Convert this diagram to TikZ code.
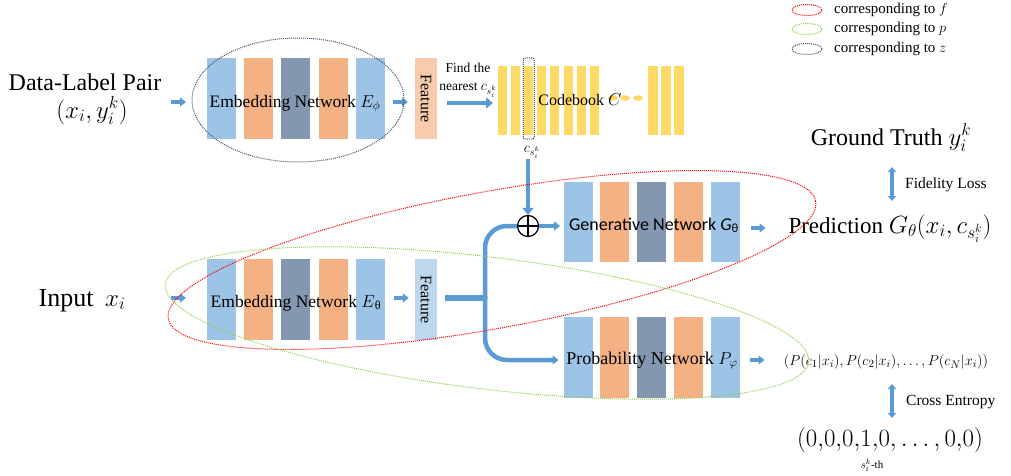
\documentclass[tikz,border=0pt]{standalone}
\usepackage{fontspec}
\setmainfont{Liberation Serif}
\newfontfamily\calib{Carlito}
\usetikzlibrary{arrows.meta,calc}
\definecolor{lblue}{HTML}{9DC3E6}
\definecolor{salm}{HTML}{F4B183}
\definecolor{slate}{HTML}{8497B0}
\definecolor{featO}{HTML}{F8CBAD}
\definecolor{featB}{HTML}{BDD7EE}
\definecolor{cbY}{HTML}{FFD966}
\definecolor{ablue}{HTML}{5B9BD5}
\definecolor{ered}{HTML}{FF0000}
\definecolor{egreen}{HTML}{92D050}
\definecolor{enavy}{HTML}{44546A}
\newcommand\myfs[1]{\fontsize{#1}{#1}\selectfont}
\begin{document}
\begin{tikzpicture}[x=1pt,y=-1pt,
  txt/.style={inner sep=1pt},
  blk/.style={minimum width=29pt,minimum height=81pt,inner sep=0pt,outer sep=0pt},
  cbar/.style={fill=cbY,minimum width=9pt,minimum height=69pt,inner sep=0pt,outer sep=0pt},
  featbox/.style={minimum width=22pt,minimum height=81pt,inner sep=0pt,outer sep=0pt},
  dotline/.style={line width=1pt,dash pattern=on 1pt off 1pt},
  arr/.style={ablue,line width=3.5pt,-{Triangle[length=6pt,width=9pt]}},
  arrbig/.style={ablue,line width=4.5pt,-{Triangle[length=7pt,width=11pt]}},
  arrdbl/.style={ablue,line width=3.5pt,{Triangle[length=5pt,width=8pt]}-{Triangle[length=5pt,width=8pt]}},
  flow/.style={ablue,line width=4.5pt,rounded corners=22pt}]
\useasboundingbox (0,0) rectangle (1011,476);

% ---- top embedding network
\foreach \i/\c in {0/lblue,1/salm,2/slate,3/salm,4/lblue}
  \node[blk,fill=\c] (eT\i) at (221.5+37.2*\i,98.5) {};
\node[featbox,fill=featO] (fT) at (426,98.5) {};
\node[txt,rotate=-90,font=\myfs{16}] (fTt) at (fT) {Feature};
\node[txt,anchor=base,font=\myfs{17.5}] (eTt) at (295,107) {Embedding Network $E_\phi$};

% ---- bottom embedding network
\foreach \i/\c in {0/lblue,1/salm,2/slate,3/salm,4/lblue}
  \node[blk,fill=\c] (eB\i) at (221.5+37.2*\i,299.5) {};
\node[featbox,fill=featB] (fB) at (426,299.5) {};
\node[txt,rotate=-90,font=\myfs{16}] (fBt) at (fB) {Feature};
\node[txt,anchor=base,font=\myfs{17.5}] (eBt) at (296,307) {Embedding Network $E$\textsubscript{θ}};

% ---- generative network
\foreach \i/\c in {0/lblue,1/salm,2/slate,3/salm,4/lblue}
  \node[blk,minimum height=80pt,fill=\c] (gB\i) at (578+36.75*\i,222) {};
\node[txt,anchor=base,font=\calib\myfs{18}] (gBt) at (654,230) {Generative Network {\itshape G}\textsubscript{θ}};

% ---- probability network
\foreach \i/\c in {0/lblue,1/salm,2/slate,3/salm,4/lblue}
  \node[blk,fill=\c] (pB\i) at (578+36.75*\i,357.5) {};
\node[txt,anchor=base,font=\myfs{18}] (pBt) at (652,364) {Probability Network $P_\varphi$};

% ---- codebook
\foreach \i in {0,...,7}
  \node[cbar] (cb\i) at (502.5+13.1*\i,100.5) {};
\foreach \i/\x in {8/653,9/666,10/679}
  \node[cbar,minimum width=10pt] (cb\i) at (\x,100.5) {};
\foreach \i/\x in {1/613,2/625,3/638}
  \fill[cbY] (\x,98) ellipse [x radius=5pt,y radius=2.8pt];
\node[draw,line width=0.8pt,dash pattern=on 1pt off 1pt,rounded corners=2pt,minimum width=11pt,minimum height=81pt,inner sep=0pt] (sel) at (528.7,98.5) {};
\node[txt,anchor=base,font=\myfs{16}] (cbt) at (580,106) {Codebook $C$};
\node[txt,font=\myfs{14}] (clab) at (532,152) {$c_{s_i^k}$};
\node[txt,anchor=base,font=\myfs{13.5}] (find1) at (468,73) {Find the};
\node[txt,anchor=base,font=\myfs{13.5}] (find2) at (468,91) {nearest $c_{s_i^k}$};

% ---- plus
\node[circle,draw,line width=1.2pt,minimum size=21pt,inner sep=0pt,
  path picture={\draw[line width=1.2pt] (path picture bounding box.north) -- (path picture bounding box.south)
  (path picture bounding box.west) -- (path picture bounding box.east);}] (plus) at (528,226) {};

% ---- left texts
\node[txt,anchor=base,font=\myfs{24}] (dlp) at (85,91) {Data-Label Pair};
\node[txt,anchor=base,font=\myfs{24}] (pair) at (92,118) {$(x_i,y_i^k)$};
\node[txt,anchor=base,font=\myfs{26}] (inp) at (82,306) {Input\hspace{0.45em}$x_i$};

% ---- right texts
\node[txt,anchor=base,font=\myfs{24}] (gt) at (891,145) {Ground Truth $y_i^k$};
\node[txt,anchor=base,font=\myfs{23}] (pred) at (890,233) {Prediction $G_\theta(x_i,c_{s_i^k})$};
\node[txt,anchor=west,font=\myfs{15.5}] (fid) at (904,185) {Fidelity Loss};
\node[txt,font=\myfs{15}] (pvec) at (886,362) {$(P(c_1|x_i),P(c_2|x_i),\ldots,P(c_N|x_i))$};
\node[txt,anchor=west,font=\myfs{15.5}] (ce) at (905,402) {Cross Entropy};
\node[txt,font=\myfs{23}] (zeros) at (890,440) {$(0{,}0{,}0{,}1{,}0,\ldots,0{,}0)$};
\node[txt,font=\myfs{11}] (sth) at (872,465) {$s_i^k$-th};

% ---- arrows
\draw[arr] ($(eT0.west)+(-36,3.5)$) -- ++(15,0);
\draw[arr] ($(eT4.east)+(8,3.5)$) -- ++(15,0);
\draw[arrbig] ($(fT.east)+(10,4.5)$) -- ($(cb0.west)+(-5,2.5)$);
\draw[arr] ($(eB0.west)+(-36,-1.5)$) -- ++(15,0);
\draw[arr] ($(eB4.east)+(9,-1.5)$) -- ++(15,0);
\draw[arrbig,line width=4.5pt] (clab.south -| plus.north) -- (plus.north);
\coordinate (jn) at ($(fB.east)+(48,-1.5)$);
\draw[ablue,line width=6pt] ($(fB.east)+(8,-1.5)$) -- (jn);
\draw[flow] ($(jn)+(0,2)$) |- (plus.west);
\draw[flow,-{Triangle[length=6pt,width=9pt]}] ($(jn)+(0,-2)$) |- ($(pB0.west)+(-5,2.5)$);
\draw[arr] (plus.east) -- ++(21,0);
\draw[arr] ($(gB4.east)+(11,6)$) -- ++(15,0);
\draw[arr] ($(pB4.east)+(10,2.5)$) -- ++(15,0);
\coordinate (fa) at (892,167);
\coordinate (fb) at (892,201);
\draw[arrdbl] (fa) -- (fb);
\coordinate (ca) at (892,384);
\coordinate (cc) at (892,418);
\draw[arrdbl] (ca) -- (cc);

% ---- ellipses
\draw[enavy,dotline] (298,100) ellipse [x radius=106pt,y radius=62pt];
\draw[ered,dotline,rotate around={10.3:(492,260)}] (492,260) ellipse [x radius=329pt,y radius=68.5pt];
\draw[egreen,dotline,rotate around={-6.9:(487,323)}] (487,323) ellipse [x radius=324pt,y radius=66pt];

% ---- legend
\foreach \y/\c/\t in {10/ered/f,29/egreen/p,49/enavy/z}{
  \draw[\c,dotline] (807,\y) ellipse [x radius=15pt,y radius=5.5pt];
  \node[txt,anchor=west,font=\myfs{15}] (leg\t) at (833,\y) {corresponding to $\t$};
}
\end{tikzpicture}
\end{document}
